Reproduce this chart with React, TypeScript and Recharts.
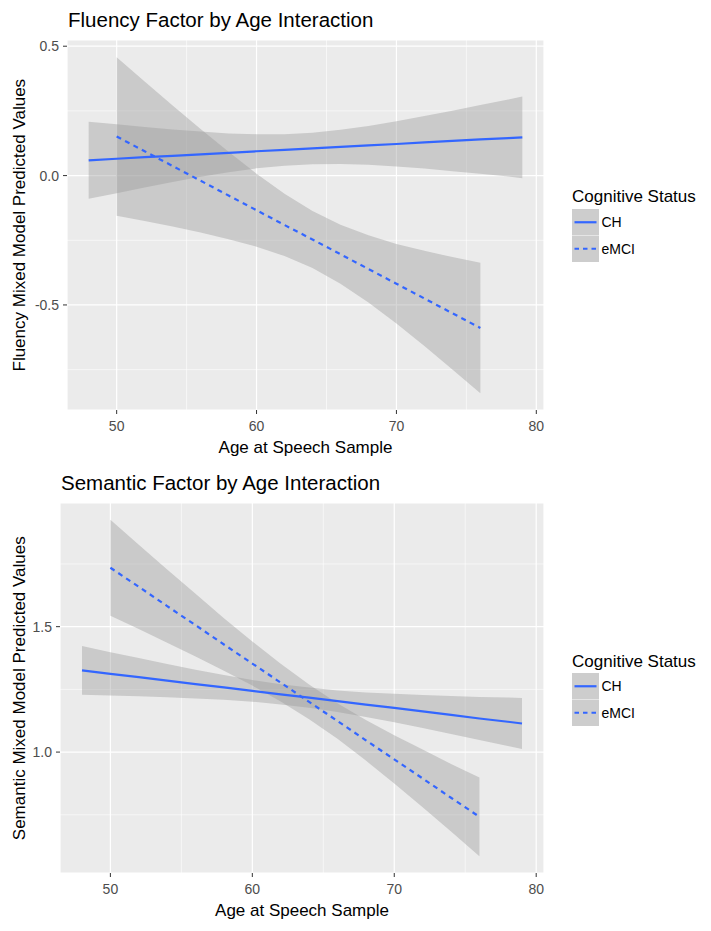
import React from "react";
import { ComposedChart, Area, Line, XAxis, YAxis, CartesianGrid } from "recharts";

// ages at which the fitted values and band edges were read
const chAges = [48, 50, 52, 54, 56, 58, 60, 62, 64, 66, 68, 70, 72, 74, 76, 78, 79];
const emciAges = [50, 52, 54, 56, 58, 60, 62, 64, 66, 68, 70, 72, 74, 76];

const ageDomain: [number, number] = [46.45, 80.55];
const ageTicks = [50, 60, 70, 80];
const ageMinor = [55, 65, 75];

// Fluency panel
const fluencyChFit = [0.059, 0.065, 0.071, 0.076, 0.082, 0.088, 0.094, 0.099, 0.105, 0.111, 0.117, 0.122, 0.128, 0.134, 0.14, 0.145, 0.148];
const fluencyChLo = [-0.09, -0.068, -0.046, -0.025, -0.005, 0.013, 0.028, 0.038, 0.044, 0.045, 0.042, 0.035, 0.027, 0.017, 0.007, -0.004, -0.01];
const fluencyChHi = [0.208, 0.198, 0.188, 0.178, 0.17, 0.163, 0.16, 0.16, 0.166, 0.177, 0.192, 0.21, 0.23, 0.251, 0.273, 0.294, 0.306];
const fluencyEmciFit = [0.151, 0.094, 0.037, -0.02, -0.077, -0.134, -0.191, -0.247, -0.304, -0.361, -0.418, -0.475, -0.532, -0.589];
const fluencyEmciLo = [-0.155, -0.176, -0.197, -0.22, -0.246, -0.275, -0.311, -0.357, -0.418, -0.491, -0.572, -0.659, -0.749, -0.841];
const fluencyEmciHi = [0.457, 0.364, 0.271, 0.18, 0.092, 0.007, -0.07, -0.137, -0.19, -0.231, -0.264, -0.291, -0.315, -0.337];
const fluencyTicks = [-0.5, 0, 0.5];
const fluencyMinor = [-0.75, -0.25, 0.25];

// Semantic panel
const semanticChFit = [1.326, 1.312, 1.299, 1.285, 1.271, 1.258, 1.244, 1.23, 1.217, 1.203, 1.189, 1.176, 1.162, 1.148, 1.134, 1.121, 1.114];
const semanticChLo = [1.229, 1.226, 1.223, 1.219, 1.214, 1.209, 1.201, 1.19, 1.177, 1.16, 1.14, 1.119, 1.096, 1.072, 1.048, 1.024, 1.012];
const semanticChHi = [1.423, 1.398, 1.375, 1.351, 1.328, 1.307, 1.287, 1.27, 1.257, 1.246, 1.238, 1.233, 1.228, 1.224, 1.22, 1.218, 1.216];
const semanticEmciFit = [1.735, 1.659, 1.582, 1.506, 1.429, 1.353, 1.277, 1.2, 1.124, 1.047, 0.971, 0.895, 0.818, 0.742];
const semanticEmciLo = [1.544, 1.491, 1.436, 1.381, 1.324, 1.265, 1.202, 1.131, 1.053, 0.966, 0.875, 0.78, 0.683, 0.585];
const semanticEmciHi = [1.926, 1.827, 1.728, 1.631, 1.534, 1.441, 1.352, 1.269, 1.195, 1.128, 1.067, 1.01, 0.953, 0.899];
const semanticTicks = [1.0, 1.5];
const semanticMinor = [0.75, 1.25, 1.75];

const statusLabels = ["CH", "eMCI"];

const FONT = "'Liberation Sans', Arial, sans-serif";
const BLUE = "#3366FF";

const makeRows = (ages: number[], fit: number[], lo: number[], hi: number[]) =>
  ages.map((age, i) => ({ age, fit: fit[i], band: [lo[i], hi[i]] }));

interface PanelProps {
  top: number;
  height: number;
  plotTop: number;
  plotLeft: number;
  xAxisHeight: number;
  title: string;
  yTitle: string;
  yDomain: [number, number];
  yTicks: number[];
  yMinor: number[];
  ch: { age: number; fit: number; band: number[] }[];
  emci: { age: number; fit: number; band: number[] }[];
}

function CapText({ left, center, size, children, color = "#000" }: any) {
  return (
    <div
      style={{
        position: "absolute",
        left,
        top: center - 0.5885 * size,
        fontSize: size,
        lineHeight: `${size * 1.2}px`,
        color,
        whiteSpace: "nowrap",
      }}
    >
      {children}
    </div>
  );
}

function LegendBlock({ titleCenter, keysTop }: { titleCenter: number; keysTop: number }) {
  const keyH = 26.5;
  return (
    <>
      <CapText left={572} center={titleCenter} size={17}>
        Cognitive Status
      </CapText>
      <svg
        width={28}
        height={keyH * 2}
        style={{ position: "absolute", left: 572, top: keysTop }}
      >
        <rect x={0} y={0} width={27} height={keyH * 2} fill="#CDCDCD" />
        <line x1={0} x2={27} y1={keyH} y2={keyH} stroke="#FFFFFF" strokeWidth={0.8} strokeOpacity={0.6} />
        <line x1={2.5} x2={24.5} y1={keyH / 2} y2={keyH / 2} stroke={BLUE} strokeWidth={2.2} />
        <line x1={2.5} x2={24.5} y1={keyH * 1.5} y2={keyH * 1.5} stroke={BLUE} strokeWidth={2.2} strokeDasharray="4.5 4" />
      </svg>
      {statusLabels.map((s, i) => (
        <CapText key={s} left={601.5} center={keysTop + keyH * (i + 0.5)} size={14}>
          {s}
        </CapText>
      ))}
    </>
  );
}

function FactorPanel(p: PanelProps) {
  const plotRight = 544;
  const plotBottom = p.height - p.xAxisHeight;
  const yCenter = p.top + (p.plotTop + plotBottom) / 2;
  // minor grid positions inside the plot box given by the chart's offset
  const minorY = ({ offset }: any) =>
    offset
      ? p.yMinor.map((v) => offset.top + (offset.height * (p.yDomain[1] - v)) / (p.yDomain[1] - p.yDomain[0]))
      : [];
  const minorX = ({ offset }: any) =>
    offset
      ? ageMinor.map((v) => offset.left + (offset.width * (v - ageDomain[0])) / (ageDomain[1] - ageDomain[0]))
      : [];
  return (
    <>
      <div style={{ position: "absolute", left: 0, top: p.top, width: 711, height: p.height }}>
        <ComposedChart
          width={711}
          height={p.height}
          margin={{ top: p.plotTop, right: 711 - plotRight, bottom: 0, left: 0 }}
        >
          <CartesianGrid fill="#EBEBEB" stroke="#FFFFFF" strokeWidth={1.2} />
          <CartesianGrid
            stroke="#FFFFFF"
            strokeWidth={0.6}
            horizontalCoordinatesGenerator={minorY}
            verticalCoordinatesGenerator={minorX}
          />
          <XAxis
            type="number"
            dataKey="age"
            domain={ageDomain}
            ticks={ageTicks}
            allowDataOverflow
            axisLine={false}
            tickLine={{ stroke: "#333333" }}
            tickSize={4}
            tickMargin={7}
            tick={{ fill: "#4D4D4D", fontSize: 14 }}
            height={p.xAxisHeight}
          />
          <YAxis
            type="number"
            domain={p.yDomain}
            ticks={p.yTicks}
            allowDataOverflow
            axisLine={false}
            tickLine={{ stroke: "#333333" }}
            tickSize={4}
            tickMargin={4}
            tick={{ fill: "#4D4D4D", fontSize: 14 }}
            tickFormatter={(v: number) => v.toFixed(1)}
            width={p.plotLeft}
          />
          <Area data={p.ch} dataKey="band" type="linear" stroke="none" fill="#999999" fillOpacity={0.4} isAnimationActive={false} />
          <Line data={p.ch} dataKey="fit" type="linear" stroke={BLUE} strokeWidth={2.2} dot={false} isAnimationActive={false} />
          <Area data={p.emci} dataKey="band" type="linear" stroke="none" fill="#999999" fillOpacity={0.4} isAnimationActive={false} />
          <Line data={p.emci} dataKey="fit" type="linear" stroke={BLUE} strokeWidth={2.2} strokeDasharray="5 4.5" dot={false} isAnimationActive={false} />
        </ComposedChart>
      </div>
      <CapText left={p.plotLeft + 1} center={p.top + p.plotTop - 20} size={20.5}>
        {p.title}
      </CapText>
      <div
        style={{
          position: "absolute",
          left: 20 - 200,
          top: yCenter - 10.2,
          width: 400,
          height: 20.4,
          lineHeight: "20.4px",
          fontSize: 17,
          textAlign: "center",
          color: "#000",
          transform: "rotate(-90deg)",
          whiteSpace: "nowrap",
        }}
      >
        {p.yTitle}
      </div>
      <div
        style={{
          position: "absolute",
          left: (p.plotLeft + plotRight) / 2 - 200,
          top: p.top + plotBottom + 37.8 - 10,
          width: 400,
          fontSize: 17,
          lineHeight: "20.4px",
          textAlign: "center",
          color: "#000",
        }}
      >
        Age at Speech Sample
      </div>
    </>
  );
}

export default function App() {
  return (
    <div
      style={{
        position: "absolute",
        left: 0,
        top: 0,
        width: 711,
        height: 931,
        background: "#FFFFFF",
        overflow: "hidden",
        fontFamily: FONT,
      }}
    >
      <FactorPanel
        top={0}
        height={465}
        plotTop={40}
        plotLeft={67}
        xAxisHeight={55}
        title="Fluency Factor by Age Interaction"
        yTitle="Fluency Mixed Model Predicted Values"
        yDomain={[-0.906, 0.524]}
        yTicks={fluencyTicks}
        yMinor={fluencyMinor}
        ch={makeRows(chAges, fluencyChFit, fluencyChLo, fluencyChHi)}
        emci={makeRows(emciAges, fluencyEmciFit, fluencyEmciLo, fluencyEmciHi)}
      />
      <LegendBlock titleCenter={196.7} keysTop={209} />
      <FactorPanel
        top={465}
        height={466}
        plotTop={38}
        plotLeft={60}
        xAxisHeight={58}
        title="Semantic Factor by Age Interaction"
        yTitle="Semantic Mixed Model Predicted Values"
        yDomain={[0.518, 1.993]}
        yTicks={semanticTicks}
        yMinor={semanticMinor}
        ch={makeRows(chAges, semanticChFit, semanticChLo, semanticChHi)}
        emci={makeRows(emciAges, semanticEmciFit, semanticEmciLo, semanticEmciHi)}
      />
      <LegendBlock titleCenter={661.7} keysTop={673} />
    </div>
  );
}
